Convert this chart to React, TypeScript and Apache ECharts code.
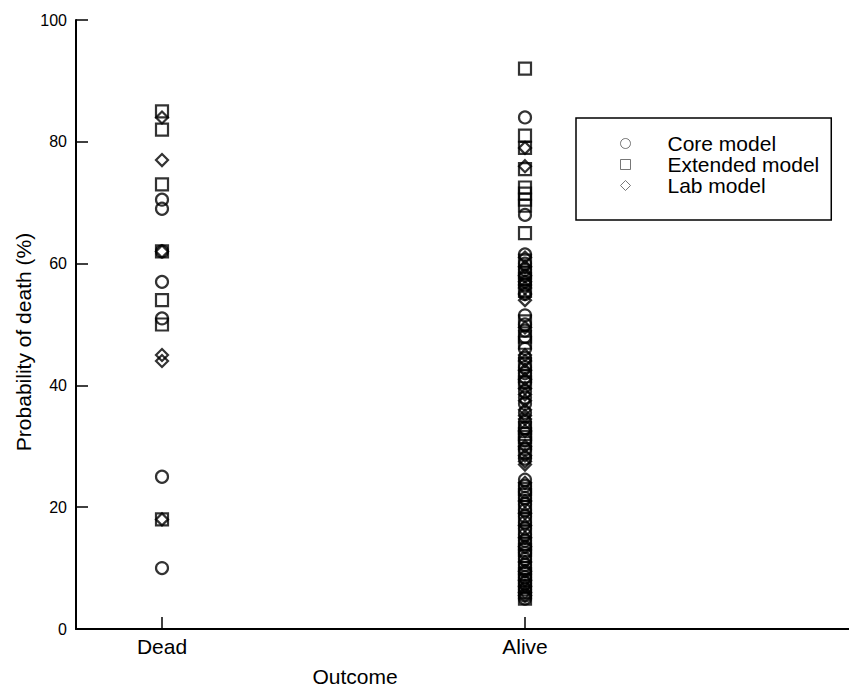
import React, { useEffect, useRef } from "react";
import * as echarts from "echarts";

const outcomes = ["Dead", "Alive"];
const seriesNames = ["Core model", "Extended model", "Lab model"];

const deadCore = [70.5, 69, 62, 57, 51, 25, 10];
const deadExtended = [85, 82, 73, 62, 54, 50, 18];
const deadLab = [84, 77, 62, 45, 44, 18];

const aliveCore = [84, 68, 61.5, 60, 59, 58, 57, 56.5, 55, 51.5, 50, 49, 48, 46, 44.5, 43, 42, 40.5, 39, 38, 37, 35.5, 34, 33, 31, 29.5, 28, 24.5, 23.5, 22.5, 21.5, 20.5, 19.5, 18.5, 17.5, 16.5, 15.5, 14.5, 13.5, 12.5, 11.5, 10.5, 9.5, 8.5, 7.5, 6.5, 5.5, 5];
const aliveExtended = [92, 81, 79, 75.5, 72.5, 71.5, 70.5, 69.5, 65, 60.5, 58.5, 57.5, 55.5, 50.5, 48, 47, 43.5, 41.5, 40.5, 33, 32, 31.5, 30.5, 29, 23, 22, 20, 18, 16, 14, 13, 12, 10, 9, 8, 7, 6, 5];
const aliveLab = [79, 76, 61, 59.5, 58, 57, 56, 55, 54, 49.5, 45, 44, 42.5, 41, 39.5, 38.5, 37.5, 36, 35, 34.5, 32.5, 30, 28.5, 27.5, 27, 24, 21, 19, 17, 15, 13.5, 11, 9.5, 8, 7, 6, 5.5];

const yTicks = [0, 20, 40, 60, 80, 100];

const FONT = "'Liberation Sans', Arial, Helvetica, sans-serif";

function pts(dead: number[], alive: number[]) {
  return [...dead.map((v) => [1, v]), ...alive.map((v) => [2, v])];
}

export default function App() {
  const ref = useRef<HTMLDivElement>(null);
  useEffect(() => {
    if (!ref.current) return;
    const chart = echarts.init(ref.current, null, { renderer: "svg" });
    const symbols = ["circle", "rect", "diamond"];
    const datasets = [
      pts(deadCore, aliveCore),
      pts(deadExtended, aliveExtended),
      pts(deadLab, aliveLab),
    ];
    const xMin = 1 - 86 / 363;
    const xMax = xMin + 773 / 363;
    chart.setOption({
      animation: false,
      backgroundColor: "#fff",
      grid: { left: 76, top: 20, right: 0, bottom: 60, containLabel: false },
      xAxis: {
        type: "value",
        min: xMin,
        max: xMax,
        axisLine: { lineStyle: { color: "#000", width: 2 } },
        axisTick: { inside: true, length: 12, lineStyle: { color: "#000", width: 1.5 }, customValues: [1, 2] },
        axisLabel: {
          customValues: [1, 2],
          formatter: (v: number) => outcomes[Math.round(v) - 1] ?? "",
          color: "#000",
          fontSize: 21,
          fontFamily: FONT,
          margin: 7,
        },
        splitLine: { show: false },
      },
      yAxis: {
        type: "value",
        min: 0,
        max: 100,
        interval: 20,
        axisLine: { show: true, lineStyle: { color: "#000", width: 2 } },
        axisTick: { inside: true, length: 12, lineStyle: { color: "#000", width: 1.5 } },
        axisLabel: {
          color: "#000",
          fontSize: 16,
          fontFamily: FONT,
          margin: 9,
          formatter: (v: number) => (yTicks.includes(v) ? String(v) : ""),
        },
        splitLine: { show: false },
      },
      legend: {
        orient: "vertical",
        left: 576,
        top: 118,
        padding: [15, 12, 24, 44],
        itemGap: 0,
        itemWidth: 10,
        itemHeight: 10,
        borderColor: "#000",
        borderWidth: 1.5,
        textStyle: {
          fontSize: 21,
          fontFamily: FONT,
          color: "#000",
          lineHeight: 19.5,
          padding: [0, 0, 0, 32],
        },
        data: seriesNames.map((n, i) => ({
          name: n,
          icon: symbols[i],
          itemStyle: { color: "#fff", borderColor: "#555", borderWidth: 1 },
        })),
      },
      graphic: [
        {
          type: "text",
          x: 23,
          y: 342,
          rotation: Math.PI / 2,
          style: {
            text: "Probability of death (%)",
            font: `21px ${FONT}`,
            fill: "#000",
            align: "center",
            verticalAlign: "middle",
          },
        },
        {
          type: "text",
          x: 355,
          y: 676,
          style: {
            text: "Outcome",
            font: `21px ${FONT}`,
            fill: "#000",
            align: "center",
            verticalAlign: "middle",
          },
        },
      ],
      series: seriesNames.map((n, i) => ({
        name: n,
        type: "scatter",
        symbol: symbols[i],
        symbolSize: 12,
        data: datasets[i],
        itemStyle: { color: "rgba(0,0,0,0)", borderColor: "#000", borderWidth: 2.2 },
        emphasis: { disabled: true },
      })),
    });
    return () => chart.dispose();
  }, []);
  return (
    <div
      ref={ref}
      style={{ position: "absolute", left: 0, top: 0, width: 849, height: 689 }}
    />
  );
}
